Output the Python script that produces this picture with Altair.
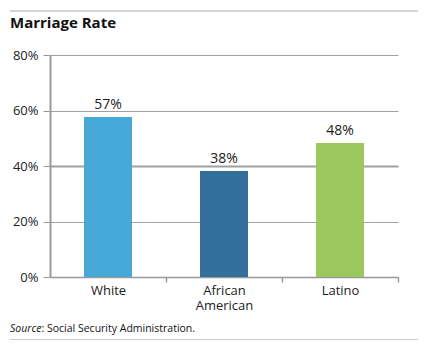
import altair as alt
import pandas as pd

groups = ["White", "African American", "Latino"]
values = [0.577, 0.382, 0.483]
value_labels = ["57%", "38%", "48%"]
colors = ["#46a8d7", "#326f9a", "#9cc65e"]
y_ticks = [0, 0.2, 0.4, 0.6, 0.8]
title_text = ["Marriage Rate"]
source_label = ["Source"]
source_rest = [": Social Security Administration."]

FONT = "Open Sans"

df = pd.DataFrame({"group": groups, "value": values, "label": value_labels})

x_enc = alt.X(
    "group:N",
    sort=groups,
    scale=alt.Scale(paddingInner=0, paddingOuter=0),
    axis=alt.Axis(
        title=None,
        labelAngle=0,
        labelFont=FONT,
        labelFontSize=13,
        labelColor="#222222",
        labelExpr="split(datum.label, ' ')",
        labelLineHeight=15,
        labelPadding=2,
        domainColor="#999999",
        domainWidth=1.5,
        tickColor="#999999",
        tickSize=5,
        tickWidth=1.5,
        tickOffset=58,
        labelOffset=-58,
        grid=False,
    ),
)

y_enc = alt.Y(
    "value:Q",
    scale=alt.Scale(domain=[0, 0.8], nice=False),
    axis=alt.Axis(
        title=None,
        values=y_ticks,
        format=".0%",
        labelFont=FONT,
        labelFontSize=13,
        labelColor="#222222",
        labelPadding=5,
        tickColor="#999999",
        tickSize=7,
        tickWidth=1,
        domainColor="#999999",
        domainWidth=2,
        gridColor="#a0a0a0",
        gridWidth={"condition": {"test": "datum.value == 0.4", "value": 2}, "value": 1},
    ),
)

base = alt.Chart(df)

bars = base.mark_bar(size=48).encode(
    x=x_enc,
    y=y_enc,
    color=alt.Color("group:N", sort=groups, scale=alt.Scale(domain=groups, range=colors), legend=None),
)

labels = base.mark_text(dy=-8, baseline="alphabetic", font=FONT, fontSize=14, color="#222222").encode(
    x=alt.X("group:N", sort=groups),
    y="value:Q",
    text="label:N",
)

title = alt.Chart(pd.DataFrame({"t": title_text})).mark_text(
    align="left", baseline="alphabetic", font=FONT, fontSize=15, fontWeight="bold", color="#111111"
).encode(x=alt.value(-40), y=alt.value(-27), text="t:N")

top_rule = alt.Chart(pd.DataFrame({"t": title_text})).mark_rule(color="#aaaaaa", strokeWidth=1).encode(
    x=alt.value(-40), x2=alt.value(368), y=alt.value(-44)
)

bottom_rule = alt.Chart(pd.DataFrame({"t": title_text})).mark_rule(color="#cccccc", strokeWidth=1).encode(
    x=alt.value(-40), x2=alt.value(368), y=alt.value(284.5)
)

src1 = alt.Chart(pd.DataFrame({"t": source_label})).mark_text(
    align="left", baseline="alphabetic", font=FONT, fontSize=10.5, fontStyle="italic", color="#111111"
).encode(x=alt.value(-40), y=alt.value(277), text="t:N")

src2 = alt.Chart(pd.DataFrame({"t": source_rest})).mark_text(
    align="left", baseline="alphabetic", font=FONT, fontSize=10.5, color="#111111"
).encode(x=alt.value(-8.5), y=alt.value(277), text="t:N")

chart = (
    alt.layer(top_rule, bottom_rule, bars, labels, title, src1, src2)
    .properties(
        width=348,
        height=222,
        autosize=alt.AutoSizeParams(type="none"),
        padding={"left": 50, "top": 55, "right": 37, "bottom": 78},
        background="white",
    )
    .configure_view(stroke=None)
)

chart.save("out.html", embed_options={"renderer": "svg", "actions": False})
